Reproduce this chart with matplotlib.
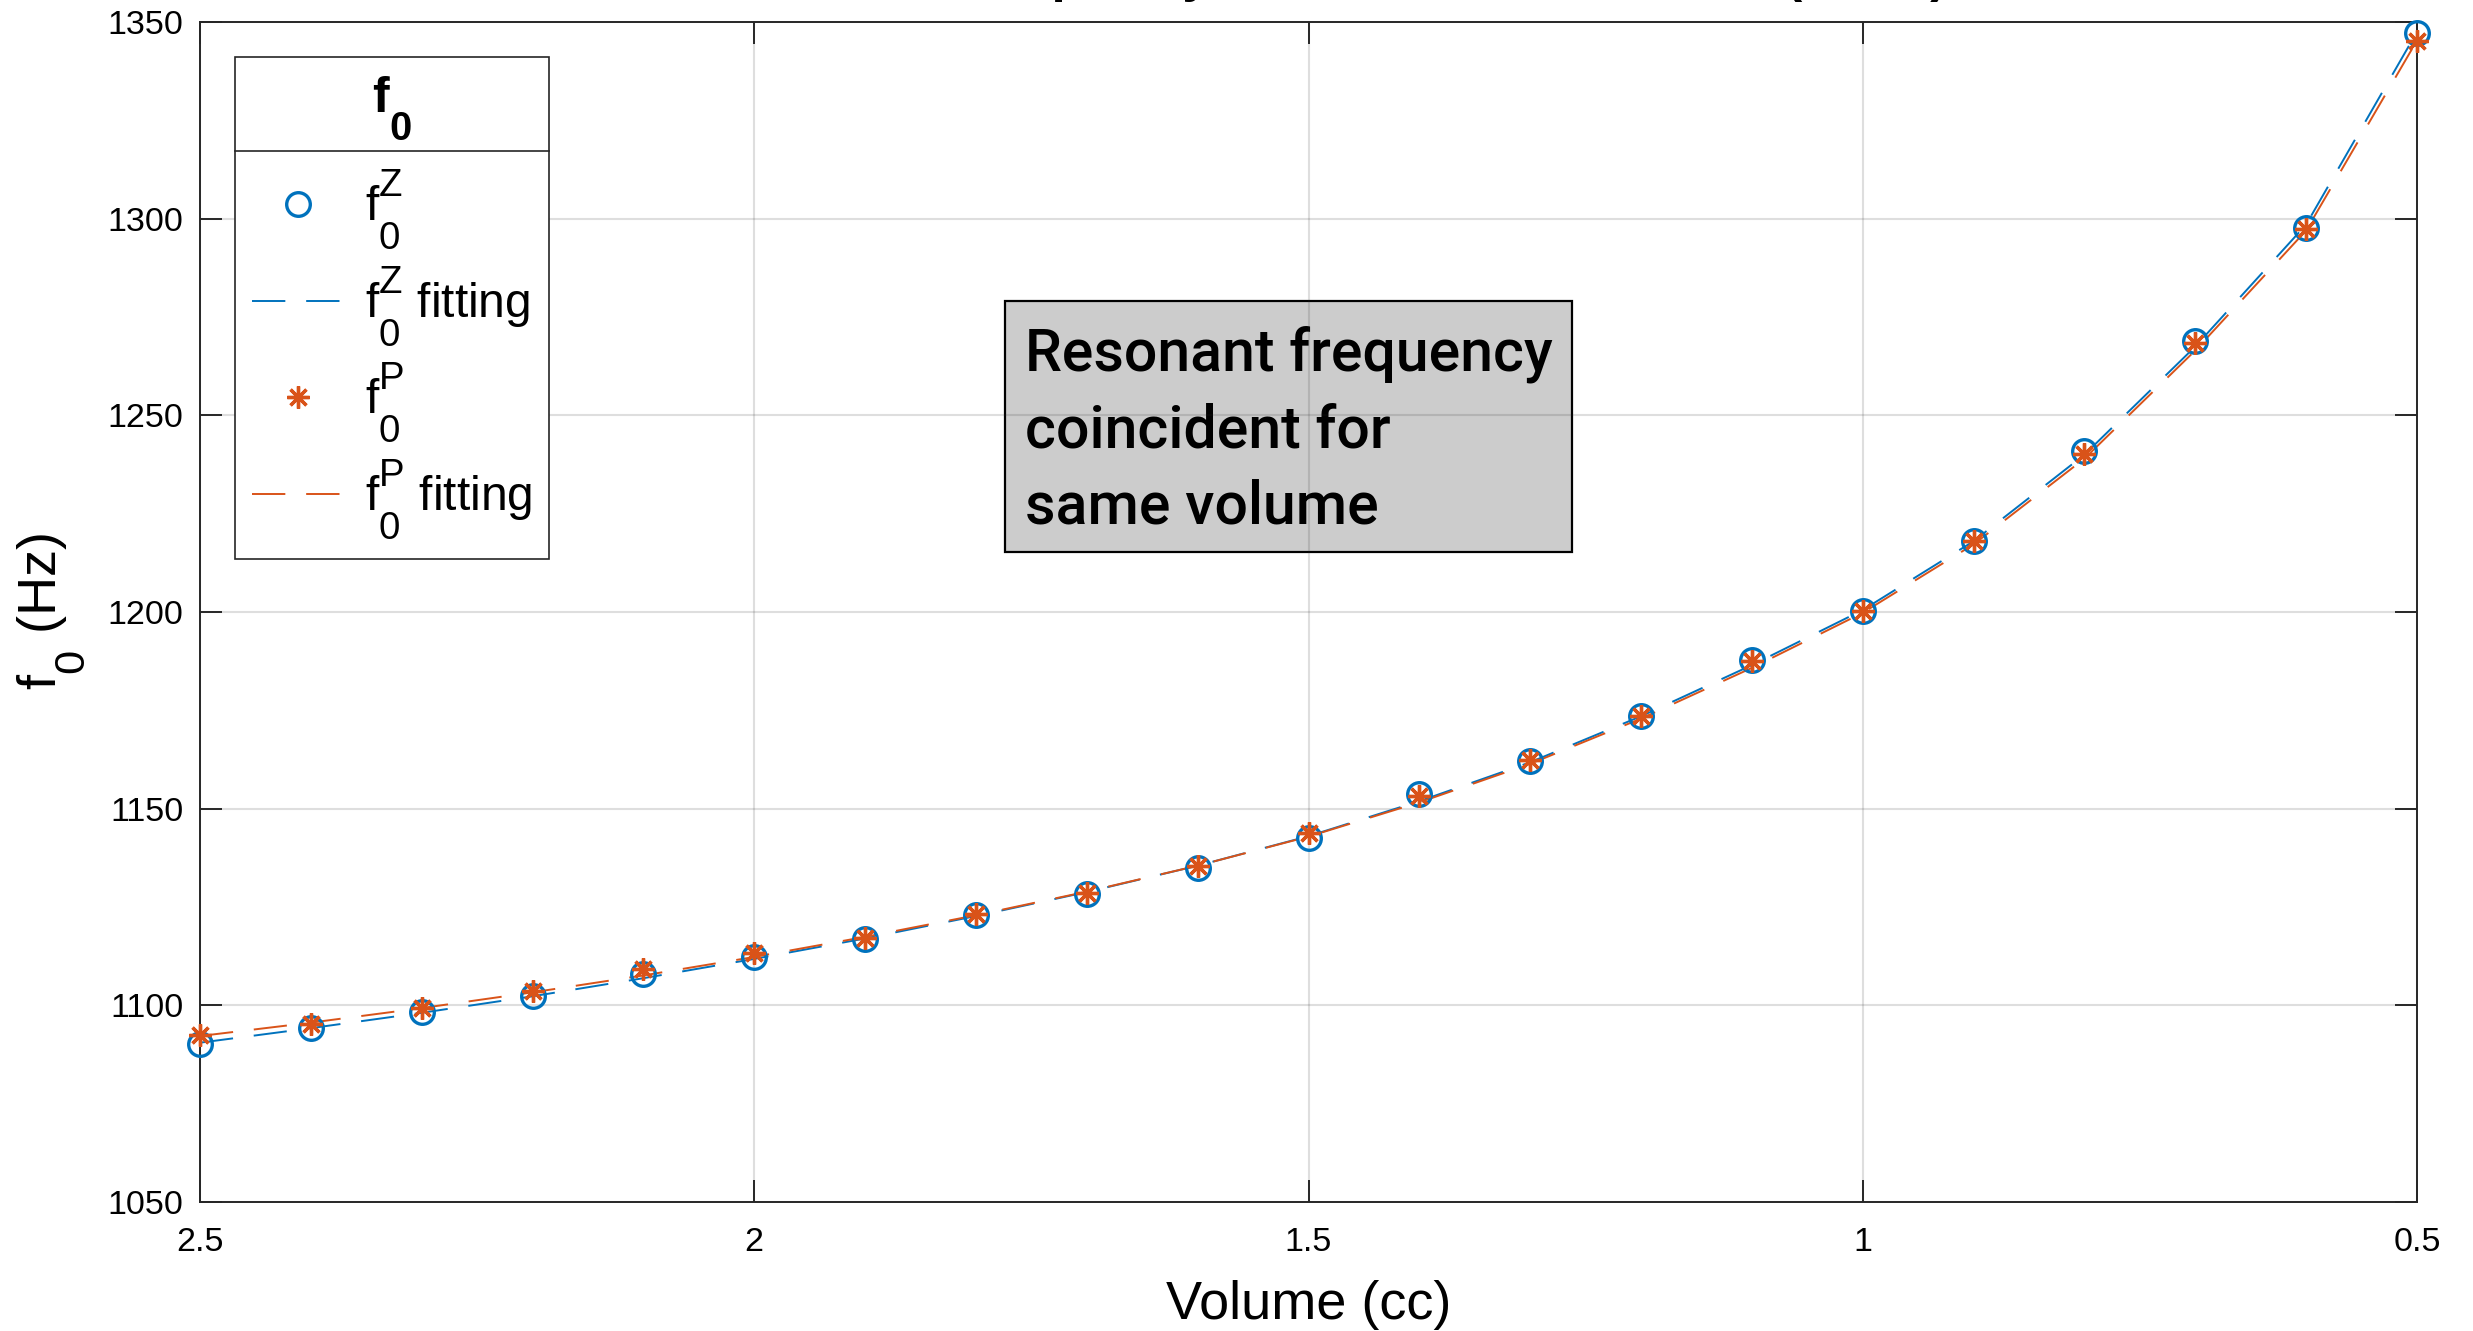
import matplotlib
matplotlib.use("Agg")
import matplotlib.pyplot as plt
import matplotlib._mathtext as mt
from matplotlib.lines import Line2D
from matplotlib.patches import Rectangle

# ---------------- data ----------------
volume = [2.5, 2.4, 2.3, 2.2, 2.1, 2.0, 1.9, 1.8, 1.7, 1.6, 1.5,
          1.4, 1.3, 1.2, 1.1, 1.0, 0.9, 0.8, 0.7, 0.6, 0.5]
f0_Z = [1090.2, 1094.2, 1098.3, 1102.3, 1108.0, 1112.4, 1116.8, 1122.9, 1128.2, 1135.0, 1142.5,
        1153.7, 1162.2, 1173.6, 1187.8, 1200.3, 1218.1, 1241.0, 1269.0, 1297.6, 1347.1]
f0_P = [1092.5, 1095.3, 1099.2, 1103.6, 1109.2, 1113.3, 1117.2, 1123.2, 1128.5, 1135.3, 1143.8,
        1153.1, 1162.3, 1173.6, 1187.6, 1200.2, 1218.0, 1240.2, 1268.5, 1297.3, 1345.2]
fit_Z = [1090.5, 1094.2, 1098.1, 1102.3, 1106.9, 1111.8, 1117.0, 1122.7, 1128.8, 1135.5, 1143.0,
         1151.9, 1161.8, 1173.5, 1186.5, 1200.5, 1218.0, 1240.0, 1267.5, 1298.5, 1347.5]
fit_P = [1092.2, 1095.6, 1099.3, 1103.3, 1107.6, 1112.3, 1117.4, 1122.9, 1128.9, 1135.5, 1142.9,
         1151.6, 1161.4, 1172.9, 1185.8, 1199.8, 1217.2, 1239.0, 1266.5, 1297.0, 1345.3]

x_ticks = [2.5, 2.0, 1.5, 1.0, 0.5]
x_ticklabels = ['2.5', '2', '1.5', '1', '0.5']
y_ticks = [1050, 1100, 1150, 1200, 1250, 1300, 1350]
y_ticklabels = ['1050', '1100', '1150', '1200', '1250', '1300', '1350']

labels = [r'$\mathregular{f_0^Z}$', r'$\mathregular{f_0^Z}$ fitting',
          r'$\mathregular{f_0^P}$', r'$\mathregular{f_0^P}$ fitting']
legend_title = r'$\mathbf{f_0}$'
annotation = 'Resonant frequency\ncoincident for\nsame volume'
title = 'Resonant frequency of the chamber volume (Z & P)'

# ---------------- style ----------------
plt.rcParams['font.family'] = ['Liberation Sans', 'DejaVu Sans']
plt.rcParams['mathtext.fontset'] = 'custom'
plt.rcParams['mathtext.rm'] = 'Liberation Sans'
plt.rcParams['mathtext.it'] = 'Liberation Sans:italic'
plt.rcParams['mathtext.bf'] = 'Liberation Sans:bold'
plt.rcParams['lines.scale_dashes'] = False
# MATLAB-like (larger, more separated) sub/superscripts
mt.SHRINK_FACTOR = 0.8
mt.FontConstantsBase.sub1 = 1.05
mt.FontConstantsBase.sub2 = 1.1
mt.FontConstantsBase.sup1 = 0.95

BLUE = '#0072BD'
ORANGE = '#D95319'
AX = '#262626'

W, H = 2473, 1331
fig = plt.figure(figsize=(W / 100, H / 100), dpi=100)
L, R, T, B = 200, 2417, 22, 1202
ax = fig.add_axes([L / W, 1 - B / H, (R - L) / W, (B - T) / H])

dash = (24, 15)
ax.plot(volume, f0_Z, linestyle='none', marker='o', ms=17, mew=2.4, mfc='none',
        mec=BLUE, label=labels[0], clip_on=False, zorder=3)
ax.plot(volume, fit_Z, linestyle='--', dashes=dash, color=BLUE, lw=1.4,
        label=labels[1], zorder=2)
ax.plot(volume, f0_P, linestyle='none', marker=(8, 2, 0), ms=16, mew=2.4,
        mec=ORANGE, color=ORANGE, label=labels[2], clip_on=False, zorder=4)
ax.plot(volume, fit_P, linestyle='--', dashes=dash, color=ORANGE, lw=1.4,
        label=labels[3], zorder=2)

ax.set_xlim(2.5, 0.5)
ax.set_ylim(1050, 1350)
ax.set_xticks(x_ticks)
ax.set_xticklabels(x_ticklabels)
ax.set_yticks(y_ticks)
ax.set_yticklabels(y_ticklabels)

ax.set_axisbelow(True)
ax.grid(True, color=(0.15, 0.15, 0.15), alpha=0.15, lw=1.5)
for s in ax.spines.values():
    s.set_color(AX)
    s.set_linewidth(1.4)
ax.tick_params(axis='both', which='major', direction='in', length=16, width=1.4,
               color=AX, labelcolor='black', labelsize=24.5,
               top=True, right=True)
ax.tick_params(axis='x', pad=18)
ax.tick_params(axis='y', pad=12)

ax.set_xlabel('Volume (cc)', fontsize=39, labelpad=16)
ax.set_ylabel(r'$\mathregular{f_0}$ (Hz)', fontsize=39, labelpad=14.5)

# title (mostly above the visible canvas, as in the reference)
fig.text(729 / W, 1 + 8 / H, title, ha='left', va='baseline',
         fontsize=36, fontweight='bold')

# annotation box
bx0, bx1 = (1004.6 - L) / (R - L), (1572.4 - L) / (R - L)
by0, by1 = 1 - (552 - T) / (B - T), 1 - (301 - T) / (B - T)
ax.add_patch(Rectangle((bx0, by0), bx1 - bx0, by1 - by0, transform=ax.transAxes,
                       facecolor='#cccccc', edgecolor='black', lw=1.6, zorder=0.3))
ax.text((1025 - L) / (R - L), 1 - (326 - T) / (B - T), annotation,
        transform=ax.transAxes, ha='left', va='top', fontsize=42.5,
        family=['Roboto', 'DejaVu Sans'], fontweight='medium',
        linespacing=1.42, zorder=0.35)

# legend
LFS = 34.5
leg = ax.legend(loc='upper left', bbox_to_anchor=(235 / W, 1 - 57 / H),
                bbox_transform=fig.transFigure, borderaxespad=0,
                fontsize=LFS, title=legend_title, title_fontsize=36,
                frameon=True, fancybox=False, framealpha=1, edgecolor=AX,
                handlelength=1.9, handletextpad=0.45, borderpad=0.36,
                labelspacing=0.24)
leg._legend_box.sep = 0.24 * LFS + 9.6   # extra room below the title
leg.get_frame().set_linewidth(1.2)
leg.set_zorder(10)

fig.canvas.draw()
lb = leg.get_window_extent()
ysep = lb.y1 - 94
fig.add_artist(Line2D([lb.x0 / W, lb.x1 / W], [ysep / H, ysep / H],
                      transform=fig.transFigure, color=AX, lw=1.2, zorder=11))

fig.savefig('out.png', dpi=100)
